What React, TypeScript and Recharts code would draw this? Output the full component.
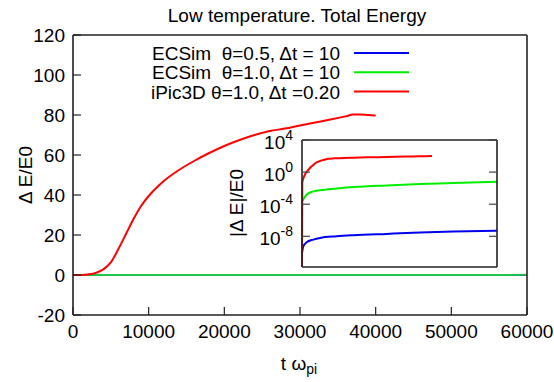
import React from 'react';
import { LineChart, Line, XAxis, YAxis } from 'recharts';

const FONT = "'Liberation Sans', Arial, Helvetica, sans-serif";
const AXIS = '#222';
const TICK = 8;

// Axis ticks
const timeTicks = [0, 10000, 20000, 30000, 40000, 50000, 60000];
const energyTicks = [-20, 0, 20, 40, 60, 80, 100, 120];
const logTicks = [1e4, 1, 1e-4, 1e-8];

// iPic3D, theta = 1.0, dt = 0.20: relative energy change (linear panel)
const ipicTime = [0, 1000, 2000, 3000, 4000, 5000, 6000, 7000, 8000, 9000, 10000, 11000, 12000, 14000, 16000, 18000, 20000, 22000, 24000, 26000, 28000, 30000, 32000, 34000, 36000, 37000, 38000, 39000, 40000];
const ipicEnergy = [0, 0.05, 0.3, 1.0, 2.8, 6.3, 13, 20.5, 28, 34.5, 39.5, 43.5, 47, 52.5, 57, 61, 64.5, 67.5, 70, 72, 73.2, 74.8, 76.3, 77.7, 79.3, 80.2, 80.3, 80.0, 79.8];

// iPic3D |dE|/E0 (log panel)
const ipicAbsTime = [0, 100, 400, 900, 1600, 2500, 3500, 4500, 5500, 6500, 8000, 10000, 13000, 16000, 20000, 26000, 32000, 36000, 40000];
const ipicAbsEnergy = [1.5e-12, 0.05, 0.16, 0.5, 1.3, 3.5, 8, 16, 24, 32, 45, 52, 59, 63, 69, 76, 85, 93, 100];

// ECSim runs, dt = 10: |dE|/E0
const ecsimTime = [0, 400, 1440, 3490, 5540, 10670, 15800, 26050, 36300, 46550, 60000];
const ecsimHalfEnergy = [8e-11, 5.6e-10, 1.8e-9, 3.9e-9, 6.3e-9, 1e-8, 1.35e-8, 2e-8, 2.9e-8, 3.9e-8, 5.1e-8];
const ecsimOneEnergy = [2.5e-4, 4e-4, 1.6e-3, 4e-3, 5.6e-3, 9e-3, 1.35e-2, 2.2e-2, 3.2e-2, 4.3e-2, 6.3e-2];

const toRows = (t: number[], v: number[]) => t.map((x, i) => ({ t: x, v: v[i] }));

const ipicRows = toRows(ipicTime, ipicEnergy);
const ipicAbsRows = toRows(ipicAbsTime, ipicAbsEnergy);
const ecsimHalfRows = toRows(ecsimTime, ecsimHalfEnergy);
const ecsimOneRows = toRows(ecsimTime, ecsimOneEnergy);

const legendItems = [
  { label: 'ECSim  θ=0.5, Δt = 10', color: '#0000ee' },
  { label: 'ECSim  θ=1.0, Δt = 10', color: '#00ee00' },
  { label: 'iPic3D θ=1.0, Δt =0.20', color: '#ff0000' },
];

const W = 554;
const H = 382;
// each axis takes 1px outside the plot area, so the margins are 1px smaller
const mainMargin = { top: 34, right: 26, bottom: 66, left: 72 };
const insetMargin = { top: 139, right: 56, bottom: 114, left: 301 };

const textProps = { fontFamily: FONT, fontSize: 19, fill: '#000' };

const BottomTick = (p: any) => (
  <g>
    <line x1={p.x} x2={p.x} y1={p.y} y2={p.y - TICK} stroke={AXIS} strokeWidth={1.2} />
    <text x={p.x} y={p.y + 23} textAnchor="middle" {...textProps}>{p.payload.value}</text>
  </g>
);
const TopTick = (p: any) => (
  <line x1={p.x} x2={p.x} y1={p.y} y2={p.y + TICK} stroke={AXIS} strokeWidth={1.2} />
);
const LeftTick = (p: any) => (
  <g>
    <line x1={p.x} x2={p.x + TICK} y1={p.y} y2={p.y} stroke={AXIS} strokeWidth={1.2} />
    <text x={p.x - 8} y={p.y + 7} textAnchor="end" {...textProps}>{p.payload.value}</text>
  </g>
);
const RightTick = (p: any) => (
  <line x1={p.x} x2={p.x - TICK} y1={p.y} y2={p.y} stroke={AXIS} strokeWidth={1.2} />
);
const LogLeftTick = (p: any) => {
  const e = Math.round(Math.log10(p.payload.value));
  return (
    <g>
      <line x1={p.x} x2={p.x + TICK} y1={p.y} y2={p.y} stroke="#444" strokeWidth={1.2} />
      <text x={p.x - 9} y={p.y + 9} textAnchor="end" {...textProps}>
        <tspan>10</tspan>
        <tspan dy={-9} fontSize={14}>{String(e)}</tspan>
      </text>
    </g>
  );
};
const LogRightTick = (p: any) => (
  <line x1={p.x} x2={p.x - TICK} y1={p.y} y2={p.y} stroke="#444" strokeWidth={1.2} />
);

const axisLine = { stroke: AXIS, strokeWidth: 1.6 };

export default function App() {
  return (
    <div style={{ position: 'absolute', left: 0, top: 0, width: W, height: H, background: '#fff' }}>
      <div style={{ position: 'absolute', left: 0, top: 0 }}>
        <LineChart width={W} height={H} margin={mainMargin}>
          <XAxis dataKey="t" type="number" domain={[0, 60000]} ticks={timeTicks} interval={0}
            height={1} tickSize={0} tickMargin={0} tickLine={false} axisLine={axisLine} tick={BottomTick} />
          <XAxis xAxisId="top" orientation="top" dataKey="t" type="number" domain={[0, 60000]} ticks={timeTicks}
            interval={0} height={1} tickSize={0} tickMargin={0} tickLine={false} axisLine={axisLine} tick={TopTick} />
          <YAxis type="number" domain={[-20, 120]} ticks={energyTicks} interval={0} width={1}
            tickSize={0} tickMargin={0} tickLine={false} axisLine={axisLine} tick={LeftTick} />
          <YAxis yAxisId="right" orientation="right" type="number" domain={[-20, 120]} ticks={energyTicks}
            interval={0} width={1} tickSize={0} tickMargin={0} tickLine={false} axisLine={axisLine} tick={RightTick} />
          <Line data={ecsimHalfRows} dataKey="v" stroke="#0000ee" strokeWidth={2} dot={false} isAnimationActive={false} />
          <Line data={ecsimOneRows} dataKey="v" stroke="#22c449" strokeWidth={2} dot={false} isAnimationActive={false} />
          <Line data={ipicRows} dataKey="v" type="monotone" stroke="#ff0000" strokeWidth={2} dot={false} isAnimationActive={false} />
        </LineChart>
      </div>
      <div style={{ position: 'absolute', left: 0, top: 0 }}>
        <LineChart width={W} height={H} margin={insetMargin}>
          <XAxis dataKey="t" type="number" domain={[0, 60000]} ticks={[]} height={1} tickSize={0}
            tickMargin={0} tickLine={false} axisLine={axisLine} tick={false} />
          <XAxis xAxisId="top" orientation="top" dataKey="t" type="number" domain={[0, 60000]} ticks={[]}
            height={1} tickSize={0} tickMargin={0} tickLine={false} axisLine={axisLine} tick={false} />
          <YAxis type="number" scale="log" domain={[1.5e-12, 1e4]} allowDataOverflow ticks={logTicks} interval={0}
            width={1} tickSize={0} tickMargin={0} tickLine={false} axisLine={axisLine} tick={LogLeftTick} />
          <YAxis yAxisId="right" orientation="right" type="number" scale="log" domain={[1.5e-12, 1e4]}
            allowDataOverflow ticks={logTicks} interval={0} width={1} tickSize={0} tickMargin={0}
            tickLine={false} axisLine={axisLine} tick={LogRightTick} />
          <Line data={ecsimHalfRows} dataKey="v" type="monotone" stroke="#0000ee" strokeWidth={2} dot={false} isAnimationActive={false} />
          <Line data={ecsimOneRows} dataKey="v" type="monotone" stroke="#00ee00" strokeWidth={2} dot={false} isAnimationActive={false} />
          <Line data={ipicAbsRows} dataKey="v" type="monotone" stroke="#ff0000" strokeWidth={2} dot={false} isAnimationActive={false} />
        </LineChart>
      </div>
      <svg width={W} height={H} style={{ position: 'absolute', left: 0, top: 0, pointerEvents: 'none' }}>
        <text x={297} y={22} textAnchor="middle" {...textProps}>Low temperature. Total Energy</text>
        {legendItems.map((item, i) => (
          <g key={item.label}>
            <text x={340} y={60 + i * 19.3} textAnchor="end" style={{ whiteSpace: 'pre' }} {...textProps}>{item.label}</text>
            <line x1={354} x2={409} y1={53 + i * 19.3} y2={53 + i * 19.3} stroke={item.color} strokeWidth={2} />
          </g>
        ))}
        <text transform="translate(32,175) rotate(-90)" textAnchor="middle" {...textProps}>Δ E/E0</text>
        <text transform="translate(243,203) rotate(-90)" textAnchor="middle" {...textProps}>|Δ E|/E0</text>
        <text x={299} y={370} textAnchor="middle" {...textProps}>
          <tspan>t ω</tspan>
          <tspan dy={4} fontSize={14}>pi</tspan>
        </text>
      </svg>
    </div>
  );
}
